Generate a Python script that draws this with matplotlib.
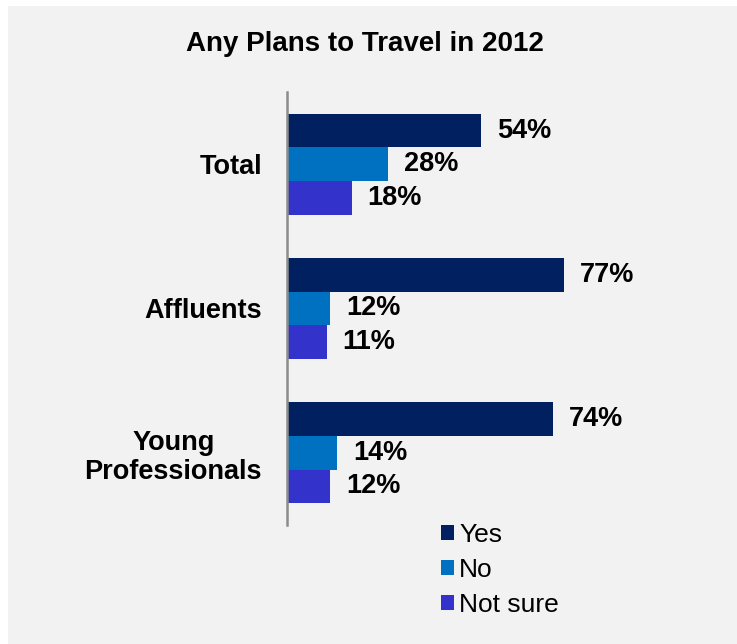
import numpy as np
import matplotlib
matplotlib.use("Agg")
import matplotlib.pyplot as plt
from matplotlib.patches import Rectangle

plt.rcParams['font.family'] = ['Liberation Sans', 'DejaVu Sans']

groups = ["Total", "Affluents", "Young\nProfessionals"]
series = ["Yes", "No", "Not sure"]
yes = [54, 77, 74]
no = [28, 12, 14]
not_sure = [18, 11, 12]
colors = ["#002060", "#0070c0", "#3333cc"]

W, H = 737, 644
fig = plt.figure(figsize=(W / 100, H / 100), dpi=100)
fig.patch.set_facecolor("white")
# grey panel with a thin white strip along the top and left edges
fig.patches.append(Rectangle((8 / W, 0), 1, 1 - 6 / H, transform=fig.transFigure,
                             facecolor="#f2f2f2", edgecolor="none", zorder=-5))

# axes placed in pixel terms: left spine at x=287, from y=92 to y=525
ax_left, ax_right = 287, 647
ax_top, ax_bottom = 92, 525
ax = fig.add_axes([ax_left / W, 1 - ax_bottom / H, (ax_right - ax_left) / W,
                   (ax_bottom - ax_top) / H])
ax.set_facecolor("none")

y = np.arange(len(groups))
bh = 0.233
for i, (vals, col) in enumerate(zip([yes, no, not_sure], colors)):
    pos = y + (i - 1) * bh
    ax.barh(pos, vals, height=bh, color=col, label=series[i])
    for p, v in zip(pos, vals):
        ax.text(v + 4.4, p, f"{v}%", va="center", ha="left",
                fontsize=19.5, fontweight="bold")

ax.set_xlim(0, 100)
ax.set_ylim(2.5, -0.5)
ax.set_yticks(y)
ax.set_yticklabels(groups, fontsize=19.5, fontweight="bold", linespacing=1.15,
                   multialignment="center")
ax.tick_params(axis="y", length=0, pad=18)
ax.set_xticks([])
for s in ["top", "right", "bottom"]:
    ax.spines[s].set_visible(False)
ax.spines["left"].set_color("#8c8c8c")
ax.spines["left"].set_linewidth(1.8)

fig.text(365 / W, 1 - 51 / H, "Any Plans to Travel in 2012", ha="center", va="baseline",
         fontsize=20, fontweight="bold")

ax.legend(loc="upper left", bbox_to_anchor=((430 - ax_left) / (ax_right - ax_left),
                                             1 - (512 - ax_top) / (ax_bottom - ax_top)),
          frameon=False, fontsize=19, handlelength=0.5, handleheight=0.5,
          handletextpad=0.2, labelspacing=0.43, borderaxespad=0)

fig.savefig("out.png", dpi=100, facecolor=fig.get_facecolor())
